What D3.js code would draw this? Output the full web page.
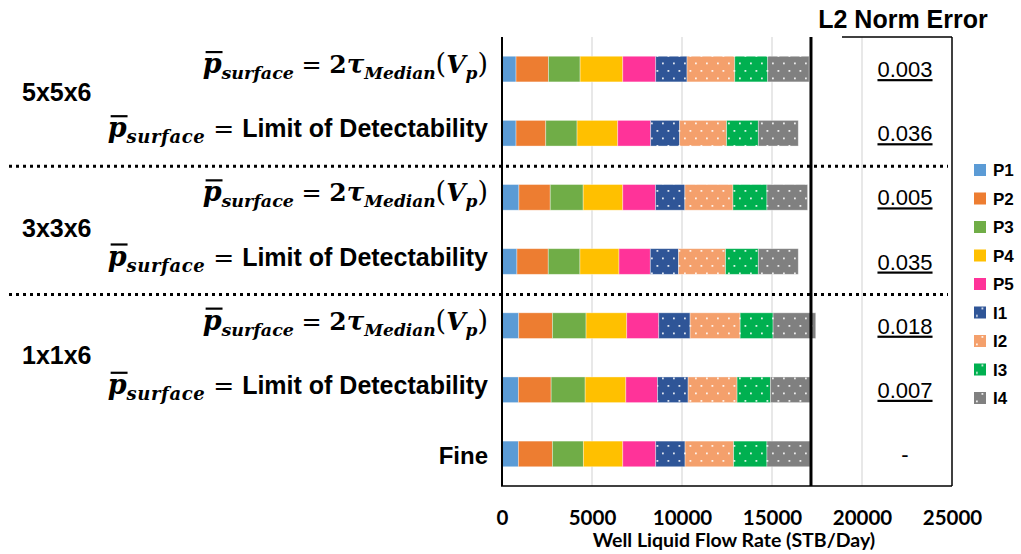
<!DOCTYPE html>
<html>
<head>
<meta charset="utf-8">
<script src="https://cdn.jsdelivr.net/npm/d3@7"></script>
<style>
  html, body { margin: 0; padding: 0; background: #ffffff; }
  svg { display: block; }
</style>
</head>
<body>
<svg id="chart" width="1021" height="554"></svg>
<script>
// Rows, top to bottom: grid resolution × surface-pressure threshold, then the fine model
const rows = ["5x5x6 2tau", "5x5x6 LoD", "3x3x6 2tau", "3x3x6 LoD", "1x1x6 2tau", "1x1x6 LoD", "Fine"];
const rowKinds = ["tau", "lod", "tau", "lod", "tau", "lod", "fine"];
const groups = ["5x5x6", "3x3x6", "1x1x6"];
const groupRows = [[0, 1], [2, 3], [4, 5]];

// Well liquid flow rate per well (STB/Day), one value per row
const seriesNames = ["P1", "P2", "P3", "P4", "P5", "I1", "I2", "I3", "I4"];
const P1 = [780, 780, 940, 830, 930, 910, 910];
const P2 = [1800, 1650, 1740, 1740, 1870, 1820, 1890];
const P3 = [1760, 1740, 1830, 1760, 1870, 1890, 1720];
const P4 = [2370, 2260, 2200, 2170, 2260, 2260, 2190];
const P5 = [1830, 1830, 1820, 1740, 1780, 1760, 1830];
const I1 = [1740, 1610, 1630, 1570, 1740, 1700, 1630];
const I2 = [2650, 2610, 2670, 2610, 2780, 2720, 2700];
const I3 = [1830, 1760, 1890, 1820, 1830, 1850, 1850];
const I4 = [2300, 2220, 2260, 2220, 2370, 2200, 2390];
const seriesValues = [P1, P2, P3, P4, P5, I1, I2, I3, I4];

// L2 norm error of each upscaled model against the fine model
const errors = ["0.003", "0.036", "0.005", "0.035", "0.018", "0.007", "-"];

const xTicks = [0, 5000, 10000, 15000, 20000, 25000];

const colors = ["#5B9BD5", "#ED7D31", "#70AD47", "#FFC000", "#FF3399",
                "#2F5597", "#F4A06C", "#00B050", "#808080"];
const dotted = [false, false, false, false, false, true, true, true, true];

// ---------------------------------------------------------------
const svg = d3.select("#chart");
const plot = { left: 502, right: 952, top: 37, bottom: 486 };

const x = d3.scaleLinear().domain([0, 25000]).range([plot.left, plot.right]);
const y = d3.scaleBand().domain(rows).range([plot.top, plot.bottom])
  .paddingInner(0.6).paddingOuter(0.3);
const yc = r => y(r) + y.bandwidth() / 2;

const table = rows.map((r, i) => {
  const o = { row: r };
  seriesNames.forEach((s, j) => { o[s] = seriesValues[j][i]; });
  return o;
});
const stacked = d3.stack().keys(seriesNames)(table);

// dotted fill patterns for the injector wells
const defs = svg.append("defs");
seriesNames.forEach((s, j) => {
  if (!dotted[j]) return;
  const p = defs.append("pattern").attr("id", "pat-" + s)
    .attr("patternUnits", "userSpaceOnUse").attr("width", 11).attr("height", 15);
  p.append("rect").attr("width", 11).attr("height", 15).attr("fill", colors[j]);
  p.append("rect").attr("x", 2).attr("y", 2.5).attr("width", 1.8).attr("height", 1.8)
    .attr("fill", "#ffffff").attr("opacity", 0.85);
  p.append("rect").attr("x", 7.5).attr("y", 10).attr("width", 1.8).attr("height", 1.8)
    .attr("fill", "#ffffff").attr("opacity", 0.85);
});
const fillOf = j => dotted[j] ? "url(#pat-" + seriesNames[j] + ")" : colors[j];

// vertical gridlines
svg.append("g").selectAll("line").data(xTicks.slice(1, -1)).join("line")
  .attr("x1", d => x(d)).attr("x2", d => x(d))
  .attr("y1", plot.top).attr("y2", plot.bottom)
  .attr("stroke", "#d9d9d9").attr("stroke-width", 1.2);

// stacked bars
svg.append("g").selectAll("g").data(stacked).join("g")
  .attr("fill", (d, j) => fillOf(j))
  .selectAll("rect").data(d => d).join("rect")
  .attr("x", d => x(d[0]))
  .attr("width", d => x(d[1]) - x(d[0]))
  .attr("y", d => y(d.data.row))
  .attr("height", y.bandwidth())
  .attr("stroke", "#ffffff").attr("stroke-opacity", 0.45).attr("stroke-width", 0.8);

// frame
const frame = svg.append("g").attr("stroke", "#000").attr("fill", "none");
frame.append("line").attr("x1", plot.left).attr("x2", plot.left)
  .attr("y1", plot.top).attr("y2", plot.bottom).attr("stroke-width", 2);
frame.append("line").attr("x1", plot.left - 1).attr("x2", plot.right)
  .attr("y1", plot.bottom).attr("y2", plot.bottom).attr("stroke-width", 1.5);
frame.append("line").attr("x1", plot.right).attr("x2", plot.right)
  .attr("y1", plot.top).attr("y2", plot.bottom).attr("stroke-width", 1.5);

// reference line at the fine-model total rate, bounding the error table
const fineTotal = d3.sum(seriesValues, v => v[rows.length - 1]);
frame.append("line").attr("x1", x(fineTotal) + 1).attr("x2", x(fineTotal) + 1)
  .attr("y1", plot.top).attr("y2", plot.bottom).attr("stroke-width", 3);
frame.append("line").attr("x1", x(fineTotal) + 32).attr("x2", plot.right)
  .attr("y1", plot.top).attr("y2", plot.top).attr("stroke-width", 1.5);

// x axis
const xAxis = svg.append("g").attr("transform", `translate(0,${plot.bottom})`)
  .call(d3.axisBottom(x).tickValues(xTicks).tickSize(0).tickPadding(24).tickFormat(d3.format("d")));
xAxis.select(".domain").remove();
xAxis.selectAll("text").attr("font-family", "Lato, 'Open Sans', sans-serif")
  .attr("font-weight", "bold").attr("font-size", 20.5).attr("fill", "#000");

svg.append("text").attr("x", (plot.left + plot.right) / 2 + 7).attr("y", 547)
  .attr("text-anchor", "middle")
  .attr("font-family", "Lato, 'Open Sans', sans-serif").attr("font-weight", "bold")
  .attr("font-size", 19.5).text("Well Liquid Flow Rate (STB/Day)");

// error column
svg.append("text").attr("x", 903).attr("y", 28).attr("text-anchor", "middle")
  .attr("font-family", "'Liberation Sans', Arial, sans-serif").attr("font-weight", "bold")
  .attr("font-size", 25).text("L2 Norm Error");

svg.append("g").selectAll("text").data(rows).join("text")
  .attr("x", 905).attr("y", r => yc(r) + 8).attr("text-anchor", "middle")
  .attr("font-family", "'Liberation Sans', Arial, sans-serif").attr("font-size", 22)
  .attr("text-decoration", (r, i) => errors[i] === "-" ? "none" : "underline")
  .text((r, i) => errors[i]);

// row labels
const mathFont = "'DejaVu Serif', serif";
const labelRight = 488;
rows.forEach((r, i) => {
  const kind = rowKinds[i];
  const base = yc(r) + 8;
  if (kind === "fine") {
    svg.append("text").attr("x", labelRight).attr("y", base + 2).attr("text-anchor", "end")
      .attr("font-family", "'Liberation Sans', Arial, sans-serif").attr("font-weight", "bold")
      .attr("font-size", 24).text("Fine");
    return;
  }
  const t = svg.append("text").attr("x", labelRight).attr("y", base - 4)
    .attr("text-anchor", "end").attr("font-family", mathFont).attr("font-weight", "bold");
  const span = (txt, opt) => {
    const s = t.append("tspan").text(txt)
      .attr("font-size", opt.size || 24)
      .attr("font-style", opt.italic ? "italic" : "normal");
    if (opt.dy) s.attr("dy", opt.dy);
    if (opt.family) s.attr("font-family", opt.family);
    if (opt.weight) s.attr("font-weight", opt.weight);
    if (opt.ls) s.attr("letter-spacing", opt.ls);
    return s;
  };
  span("p", { italic: true, size: 27 });
  if (kind === "tau") {
    span("surface", { italic: true, size: 17.5, dy: 6 });
    span(" = ", { size: 24, dy: -6, weight: "normal" });
    span("2", { size: 25 });
    span("τ", { italic: true, size: 26 });
    span("Median", { italic: true, size: 17, dy: 6 });
    span("(", { size: 27, dy: -6, weight: "normal" });
    span("V", { italic: true, size: 25 });
    span("p", { italic: true, size: 17, dy: 6 });
    span(")", { size: 27, dy: -6, weight: "normal" });
  } else {
    span("surface", { italic: true, size: 18, dy: 6, ls: 0.6 });
    span(" = ", { size: 25, dy: -6, weight: "normal" });
    span("Limit of Detectability", { size: 25, family: "'Liberation Sans', Arial, sans-serif" });
  }
  // overbar on the p
  const ext = t.node().getExtentOfChar(0);
  svg.append("line").attr("x1", ext.x + 3).attr("x2", ext.x + ext.width + 1)
    .attr("y1", base - 4 - 21).attr("y2", base - 4 - 21)
    .attr("stroke", "#000").attr("stroke-width", 2.2);
});

// grid-resolution group labels
const groupNudge = [-8, 0, -2];
groups.forEach((g, k) => {
  const [a, b] = groupRows[k];
  svg.append("text").attr("x", 22).attr("y", (yc(rows[a]) + yc(rows[b])) / 2 + 8 + groupNudge[k])
    .attr("font-family", "'Liberation Sans', Arial, sans-serif").attr("font-weight", "bold")
    .attr("font-size", 25).text(g);
});

// dotted separators between resolution groups
[[1, 2], [3, 4]].forEach(([a, b]) => {
  const yy = (yc(rows[a]) + yc(rows[b])) / 2 + 1;
  svg.append("line").attr("x1", 9).attr("x2", 948).attr("y1", yy).attr("y2", yy)
    .attr("stroke", "#000").attr("stroke-width", 3).attr("stroke-dasharray", "3,4");
});

// legend
const legend = svg.append("g").selectAll("g").data(seriesNames).join("g")
  .attr("transform", (d, j) => `translate(974,${170 + j * 28.5})`);
legend.append("rect").attr("x", 0).attr("y", -6).attr("width", 12).attr("height", 12)
  .attr("fill", (d, j) => fillOf(j));
legend.append("text").attr("x", 19).attr("y", 6)
  .attr("font-family", "'Liberation Sans', Arial, sans-serif").attr("font-weight", "bold")
  .attr("font-size", 17).text(d => d);
</script>
</body>
</html>
